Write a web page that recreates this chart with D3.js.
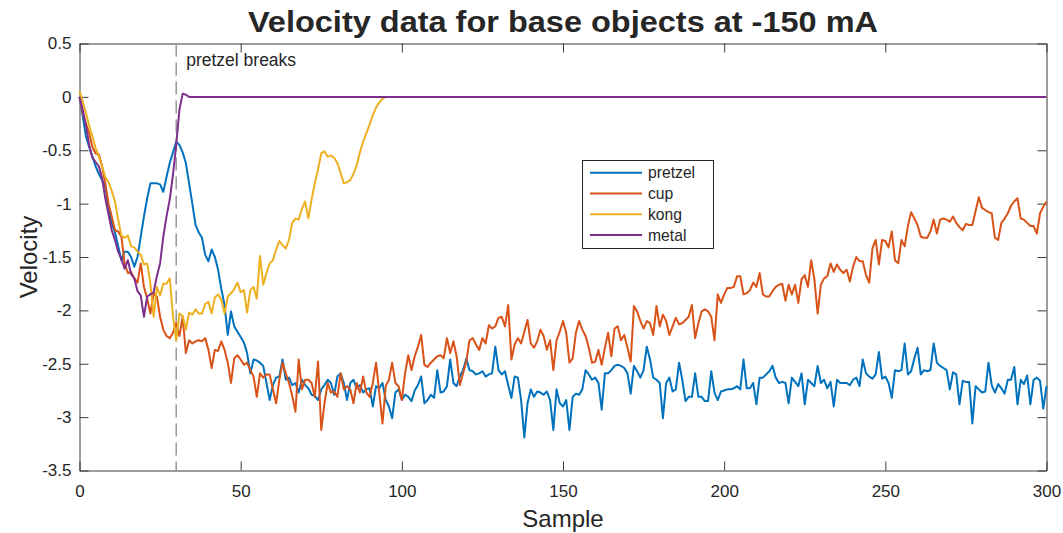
<!DOCTYPE html>
<html>
<head>
<meta charset="utf-8">
<script src="https://cdn.jsdelivr.net/npm/d3@7"></script>
<style>
  html, body { margin: 0; padding: 0; background: #ffffff; }
  svg { display: block; }
  text { font-family: "Liberation Sans", Arial, Helvetica, sans-serif; fill: #262626; }
</style>
</head>
<body>
<svg id="chart" width="1063" height="533"></svg>
<script>
// ---------------- DATA ----------------
const seriesNames = ["pretzel", "cup", "kong", "metal"];
const seriesColors = ["#0072BD", "#D95319", "#EDB120", "#7E2F8E"];

const xTicks = [0, 50, 100, 150, 200, 250, 300];
const xTickLabels = ["0", "50", "100", "150", "200", "250", "300"];
const yTicks = [0.5, 0, -0.5, -1, -1.5, -2, -2.5, -3, -3.5];
const yTickLabels = ["0.5", "0", "-0.5", "-1", "-1.5", "-2", "-2.5", "-3", "-3.5"];

const breakSample = 30;
const breakLabel = "pretzel breaks";

// pretzel: one value per sample, samples 0..300
const pretzel = [
  0, -0.18, -0.37, -0.47, -0.56, -0.65, -0.72, -0.78, -0.84, -1.03,
  -1.18, -1.27, -1.40, -1.53, -1.45, -1.45, -1.50, -1.59, -1.50, -1.31,
  -1.12, -0.95, -0.81, -0.81, -0.81, -0.82, -0.89, -0.75, -0.62, -0.52,
  -0.42, -0.45, -0.52, -0.62, -0.81, -1.00, -1.20, -1.27, -1.32, -1.48,
  -1.54, -1.43, -1.50, -1.62, -1.80, -1.95, -2.23, -2.01, -2.15, -2.20,
  -2.25, -2.30, -2.40, -2.59, -2.46, -2.47, -2.49, -2.52, -2.68, -2.84,
  -2.70, -2.63, -2.62, -2.46, -2.65, -2.63, -2.70, -2.68, -2.77, -2.65,
  -2.70, -2.73, -2.79, -2.80, -2.84, -2.74, -2.70, -2.65, -2.68, -2.79,
  -2.62, -2.59, -2.68, -2.84, -2.68, -2.65, -2.73, -2.70, -2.77, -2.74,
  -2.73, -2.90, -2.71, -2.73, -2.68, -2.84, -2.90, -3.01, -2.77, -2.74,
  -2.84, -2.79, -2.81, -2.85, -2.75, -2.70, -2.62, -2.87, -2.84, -2.79,
  -2.82, -2.56, -2.77, -2.76, -2.71, -2.46, -2.68, -2.71, -2.62, -2.56,
  -2.45, -2.56, -2.57, -2.60, -2.59, -2.57, -2.62, -2.60, -2.59, -2.34,
  -2.56, -2.60, -2.57, -2.70, -2.82, -2.62, -2.63, -2.84, -3.19, -2.87,
  -2.74, -2.81, -2.76, -2.77, -2.79, -2.76, -2.84, -3.12, -2.74, -2.87,
  -2.90, -2.84, -3.12, -2.81, -2.78, -2.79, -2.74, -2.56, -2.60, -2.65,
  -2.63, -2.68, -2.93, -2.59, -2.59, -2.56, -2.52, -2.51, -2.52, -2.54,
  -2.59, -2.78, -2.52, -2.57, -2.63, -2.56, -2.34, -2.46, -2.63, -2.65,
  -2.68, -3.01, -2.68, -2.63, -2.76, -2.74, -2.49, -2.65, -2.85, -2.81,
  -2.81, -2.59, -2.81, -2.81, -2.85, -2.85, -2.57, -2.77, -2.84, -2.76,
  -2.75, -2.74, -2.74, -2.73, -2.71, -2.74, -2.46, -2.73, -2.73, -2.68,
  -2.88, -2.63, -2.63, -2.60, -2.57, -2.52, -2.63, -2.68, -2.67, -2.68,
  -2.87, -2.63, -2.67, -2.71, -2.59, -2.88, -2.65, -2.68, -2.71, -2.52,
  -2.68, -2.65, -2.73, -2.67, -2.90, -2.65, -2.68, -2.68, -2.68, -2.70,
  -2.65, -2.63, -2.71, -2.46, -2.59, -2.62, -2.64, -2.60, -2.39, -2.64,
  -2.62, -2.68, -2.82, -2.56, -2.57, -2.56, -2.31, -2.60, -2.57, -2.45,
  -2.35, -2.60, -2.56, -2.57, -2.56, -2.31, -2.49, -2.52, -2.54, -2.56,
  -2.74, -2.58, -2.60, -2.88, -2.66, -2.67, -2.67, -3.06, -2.71, -2.74,
  -2.77, -2.76, -2.49, -2.70, -2.77, -2.69, -2.73, -2.78, -2.65, -2.65,
  -2.53, -2.88, -2.65, -2.69, -2.61, -2.88, -2.65, -2.63, -2.66, -2.92,
  -2.71
];

// cup: one value per sample, samples 0..300
const cup = [
  0, -0.15, -0.25, -0.34, -0.47, -0.53, -0.54, -0.65, -0.81, -1.00,
  -1.12, -1.25, -1.26, -1.31, -1.56, -1.65, -1.64, -1.70, -1.74, -1.56,
  -1.78, -1.89, -2.03, -1.84, -1.87, -2.06, -2.18, -2.24, -2.26, -2.21,
  -2.12, -2.24, -2.06, -2.40, -2.28, -2.31, -2.29, -2.28, -2.29, -2.26,
  -2.37, -2.54, -2.37, -2.38, -2.29, -2.37, -2.49, -2.68, -2.45, -2.42,
  -2.46, -2.51, -2.49, -2.56, -2.62, -2.81, -2.59, -2.63, -2.60, -2.60,
  -2.74, -2.87, -2.65, -2.49, -2.59, -2.68, -2.80, -2.95, -2.46, -2.74,
  -2.65, -2.65, -2.68, -2.81, -2.48, -3.12, -2.87, -2.68, -2.77, -2.76,
  -2.81, -2.59, -2.74, -2.71, -2.74, -2.87, -2.68, -2.77, -2.62, -2.77,
  -2.81, -2.68, -2.49, -2.77, -3.06, -2.71, -2.65, -2.49, -2.68, -2.71,
  -2.84, -2.59, -2.42, -2.56, -2.43, -2.34, -2.23, -2.51, -2.53, -2.49,
  -2.46, -2.43, -2.42, -2.45, -2.26, -2.40, -2.29, -2.43, -2.70, -2.59,
  -2.48, -2.28, -2.26, -2.32, -2.37, -2.26, -2.31, -2.14, -2.17, -2.15,
  -2.07, -2.06, -2.15, -1.95, -2.46, -2.32, -2.26, -2.31, -2.20, -2.09,
  -2.31, -2.35, -2.29, -2.18, -2.24, -2.37, -2.28, -2.56, -2.28, -2.20,
  -2.10, -2.21, -2.49, -2.45, -2.21, -2.10, -2.18, -2.24, -2.35, -2.49,
  -2.48, -2.37, -2.51, -2.35, -2.21, -2.43, -2.17, -2.15, -2.28, -2.23,
  -2.35, -2.48, -1.96, -2.01, -2.10, -2.17, -2.10, -2.12, -2.23, -1.96,
  -2.15, -2.04, -2.10, -2.23, -2.15, -2.07, -2.13, -2.12, -2.09, -2.06,
  -1.95, -2.26, -2.12, -2.01, -1.99, -2.01, -2.06, -2.28, -1.85, -1.93,
  -1.85, -1.79, -1.79, -1.78, -1.68, -1.68, -1.85, -1.84, -1.81, -1.74,
  -1.78, -1.65, -1.85, -1.87, -1.87, -1.82, -1.78, -1.76, -1.75, -1.91,
  -1.76, -1.85, -1.76, -1.93, -1.71, -1.67, -1.78, -1.53, -1.71, -2.03,
  -1.76, -1.70, -1.68, -1.56, -1.64, -1.57, -1.62, -1.65, -1.62, -1.73,
  -1.59, -1.50, -1.54, -1.54, -1.67, -1.74, -1.42, -1.34, -1.57, -1.34,
  -1.35, -1.41, -1.26, -1.53, -1.56, -1.34, -1.40, -1.21, -1.08, -1.14,
  -1.20, -1.31, -1.32, -1.32, -1.26, -1.15, -1.28, -1.15, -1.14, -1.15,
  -1.17, -1.12, -1.18, -1.22, -1.25, -1.19, -1.20, -1.20, -1.07, -0.94,
  -1.04, -1.06, -1.08, -1.09, -1.32, -1.34, -1.18, -1.14, -1.09, -1.02,
  -0.98, -0.95, -1.14, -1.15, -1.18, -1.21, -1.21, -1.28, -1.09, -1.03,
  -0.98
];

// kong: samples 0..95 read one by one, then flat at zero up to sample 300
const kongSamples = [
  0, 1, 2, 3, 4, 5, 6, 7, 8, 9, 10, 11, 12, 13, 14, 15, 16, 17, 18, 19,
  20, 21, 22, 23, 24, 25, 26, 27, 28, 29, 30, 31, 32, 33, 34, 35, 36, 37, 38, 39,
  40, 41, 42, 43, 44, 45, 46, 47, 48, 49, 50, 51, 52, 53, 54, 55, 56, 57, 58, 59,
  60, 61, 62, 63, 64, 65, 66, 67, 68, 69, 70, 71, 72, 73, 74, 75, 76, 77, 78, 79,
  80, 81, 82, 83, 84, 85, 86, 87, 88, 89, 90, 91, 92, 93, 94, 95, 300
];
const kong = [
  0.05, -0.04, -0.15, -0.27, -0.37, -0.48, -0.56, -0.65, -0.75, -0.80,
  -0.88, -0.98, -1.15, -1.30, -1.32, -1.30, -1.40, -1.41, -1.45, -1.48,
  -1.57, -1.56, -1.75, -2.06, -1.78, -1.86, -1.75, -1.75, -1.70, -2.05,
  -2.28, -2.03, -2.05, -2.18, -2.02, -2.04, -1.99, -2.03, -2.03, -1.94,
  -1.92, -2.03, -1.88, -1.85, -1.90, -2.03, -1.87, -1.84, -1.80, -1.74,
  -1.83, -1.81, -2.02, -1.81, -1.78, -1.89, -1.49, -1.76, -1.65, -1.56,
  -1.53, -1.43, -1.35, -1.39, -1.42, -1.34, -1.18, -1.14, -1.15, -1.05,
  -0.98, -1.14, -0.96, -0.81, -0.68, -0.53, -0.51, -0.56, -0.55, -0.57,
  -0.62, -0.71, -0.81, -0.80, -0.78, -0.72, -0.64, -0.52, -0.42, -0.34,
  -0.26, -0.17, -0.10, -0.05, -0.02, 0, 0
];

// metal: samples 0..34 read one by one, then flat at zero up to sample 300
const metalSamples = [
  0, 1, 2, 3, 4, 5, 6, 7, 8, 9, 10, 11, 12, 13, 14, 15, 16, 17, 18, 19,
  20, 21, 22, 23, 24, 25, 26, 27, 28, 29, 30, 31, 32, 33, 34, 300
];
const metal = [
  0, -0.12, -0.27, -0.45, -0.57, -0.61, -0.65, -0.76, -0.95, -1.10,
  -1.25, -1.34, -1.45, -1.52, -1.61, -1.53, -1.66, -1.70, -1.82, -1.86,
  -2.06, -1.87, -1.85, -1.83, -1.68, -1.56, -1.31, -1.12, -0.96, -0.73,
  -0.45, -0.12, 0.03, 0.02, 0, 0
];

// ---------------- CHART ----------------
const svg = d3.select("#chart");
svg.append("rect").attr("width", 1063).attr("height", 533).attr("fill", "#ffffff");

const L = 79.5, R = 1046.5, T = 43.5, B = 470.5;
const x = d3.scaleLinear().domain([0, 300]).range([L, R]);
const y = d3.scaleLinear().domain([-3.5, 0.5]).range([B, T]);

const axisColor = "#3a3a3a";
const tickFont = 17;

function styleAxis(g) {
  g.selectAll("path.domain").attr("stroke", axisColor).attr("stroke-width", 1);
  g.selectAll(".tick line").attr("stroke", axisColor).attr("stroke-width", 1);
  g.selectAll(".tick text")
    .attr("fill", "#262626")
    .style("font-family", "'Liberation Sans', Arial, Helvetica, sans-serif")
    .style("font-size", tickFont + "px");
}

const gx = svg.append("g").attr("transform", `translate(0,${B})`)
  .call(d3.axisBottom(x).tickValues(xTicks).tickSizeInner(-9).tickSizeOuter(0).tickPadding(14)
    .tickFormat((d, i) => xTickLabels[i]));
styleAxis(gx);

const gxTop = svg.append("g").attr("transform", `translate(0,${T})`)
  .call(d3.axisTop(x).tickValues(xTicks).tickSizeInner(-9).tickSizeOuter(0).tickFormat(""));
styleAxis(gxTop);

const gy = svg.append("g").attr("transform", `translate(${L},0)`)
  .call(d3.axisLeft(y).tickValues(yTicks).tickSizeInner(-9).tickSizeOuter(0).tickPadding(8)
    .tickFormat((d, i) => yTickLabels[i]));
styleAxis(gy);

const gyRight = svg.append("g").attr("transform", `translate(${R},0)`)
  .call(d3.axisRight(y).tickValues(yTicks).tickSizeInner(-9).tickSizeOuter(0).tickFormat(""));
styleAxis(gyRight);

// break line
svg.append("line")
  .attr("x1", x(breakSample)).attr("x2", x(breakSample))
  .attr("y1", T).attr("y2", B)
  .attr("stroke", "#8f8f8f").attr("stroke-width", 1.4)
  .attr("stroke-dasharray", "13,6");
svg.append("text")
  .attr("x", x(breakSample) + 10).attr("y", 66)
  .style("font-size", "17.5px")
  .text(breakLabel);

// series lines
const lineGen = d3.line().x(d => x(d[0])).y(d => y(d[1]));
const seriesData = [
  pretzel.map((v, i) => [i, v]),
  cup.map((v, i) => [i, v]),
  kongSamples.map((s, i) => [s, kong[i]]),
  metalSamples.map((s, i) => [s, metal[i]])
];
seriesData.forEach((pts, k) => {
  svg.append("path")
    .datum(pts)
    .attr("fill", "none")
    .attr("stroke", seriesColors[k])
    .attr("stroke-width", 2)
    .attr("stroke-linejoin", "round")
    .attr("d", lineGen);
});

// legend
const lg = svg.append("g");
lg.append("rect").attr("x", 582.5).attr("y", 160.5).attr("width", 131).attr("height", 88)
  .attr("fill", "#ffffff").attr("stroke", "#262626").attr("stroke-width", 1);
const rowY = [172.7, 193.5, 214.3, 235.1];
seriesNames.forEach((name, i) => {
  lg.append("line").attr("x1", 590).attr("x2", 642).attr("y1", rowY[i]).attr("y2", rowY[i])
    .attr("stroke", seriesColors[i]).attr("stroke-width", 2);
  lg.append("text").attr("x", 648).attr("y", rowY[i]).attr("dy", "0.35em")
    .style("font-size", "15.7px").text(name);
});

// title and axis labels
svg.append("text")
  .attr("x", (L + R) / 2).attr("y", 31.7)
  .attr("text-anchor", "middle")
  .style("font-size", "30px").style("font-weight", "bold")
  .attr("fill", "#000000")
  .attr("textLength", 630).attr("lengthAdjust", "spacingAndGlyphs")
  .text("Velocity data for base objects at -150 mA");

svg.append("text")
  .attr("x", (L + R) / 2).attr("y", 527)
  .attr("text-anchor", "middle")
  .style("font-size", "24px")
  .text("Sample");

svg.append("text")
  .attr("transform", `translate(37,${(T + B) / 2}) rotate(-90)`)
  .attr("text-anchor", "middle")
  .style("font-size", "24px")
  .text("Velocity");
</script>
</body>
</html>
